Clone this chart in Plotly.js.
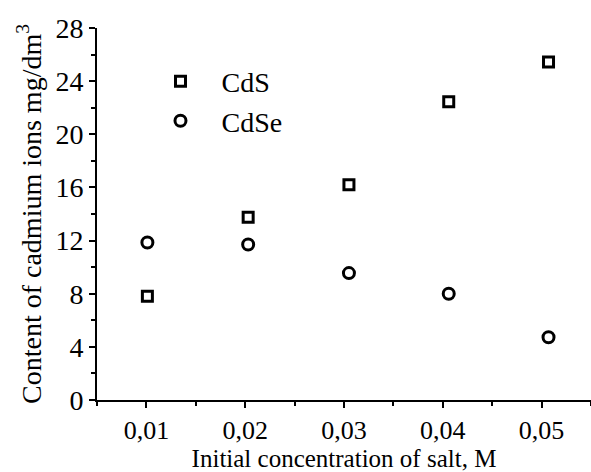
<!DOCTYPE html>
<html>
<head>
<meta charset="utf-8">
<script src="https://cdn.plot.ly/plotly-3.0.1.min.js"></script>
<style>html,body{margin:0;padding:0;background:#fff;}#chart{width:591px;height:472px;}</style>
</head>
<body>
<div id="chart"></div>
<script>
// Data
var concentration = [0.0101, 0.0203, 0.0305, 0.0406, 0.0507];
var cdsContent  = [7.8, 13.75, 16.2, 22.45, 25.45];
var cdseContent = [11.85, 11.7, 9.55, 8.0, 4.72];
var xTickVals = [0.01, 0.02, 0.03, 0.04, 0.05];
var xTickText = ["0,01", "0,02", "0,03", "0,04", "0,05"];
var yTickVals = [0, 4, 8, 12, 16, 20, 24, 28];
var yTickText = ["0", "4", "8", "12", "16", "20", "24", "28"];

var FONT = "'Liberation Serif', 'Times New Roman', serif";

var traces = [
  {x: concentration, y: cdsContent, name: "CdS", type: "scatter", mode: "markers",
   marker: {symbol: "square-open", size: 10, color: "#000", line: {width: 3, color: "#000"}}},
  {x: concentration, y: cdseContent, name: "CdSe", type: "scatter", mode: "markers",
   marker: {symbol: "circle-open", size: 11, color: "#000", line: {width: 3, color: "#000"}}}
];

var layout = {
  width: 591, height: 472,
  margin: {l: 97, r: 0, t: 28, b: 72, pad: 0},
  font: {family: FONT, size: 28, color: "#000"},
  legend: {x: 0.086, y: 0.923, itemwidth: 72, bgcolor: "rgba(0,0,0,0)"},
  xaxis: {
    range: [0.005, 0.055], tickmode: "array", tickvals: xTickVals, ticktext: xTickText,
    showline: true, linewidth: 2, linecolor: "#000",
    ticks: "outside", ticklen: 6, tickwidth: 2, tickcolor: "#000",
    minor: {dtick: 0.005, tick0: 0.005, ticks: "outside", ticklen: 4, tickwidth: 2, tickcolor: "#000", showgrid: false},
    showgrid: false, zeroline: false,
    tickfont: {family: FONT, size: 26, color: "#000"},
    title: {text: "Initial concentration of salt, M", font: {family: FONT, size: 25}, standoff: 4}
  },
  yaxis: {
    range: [0, 28], tickmode: "array", tickvals: yTickVals, ticktext: yTickText,
    showline: true, linewidth: 2, linecolor: "#000",
    ticks: "outside", ticklen: 6, tickwidth: 2, tickcolor: "#000",
    minor: {dtick: 2, tick0: 0, ticks: "outside", ticklen: 4, tickwidth: 2, tickcolor: "#000", showgrid: false},
    showgrid: false, zeroline: false,
    tickfont: {family: FONT, size: 28, color: "#000"},
    title: {text: "Content of cadmium ions mg/dm<sup>3</sup>", font: {family: FONT, size: 28}, standoff: 6}
  }
};

Plotly.newPlot("chart", traces, layout, {displayModeBar: false, staticPlot: true});
</script>
</body>
</html>
